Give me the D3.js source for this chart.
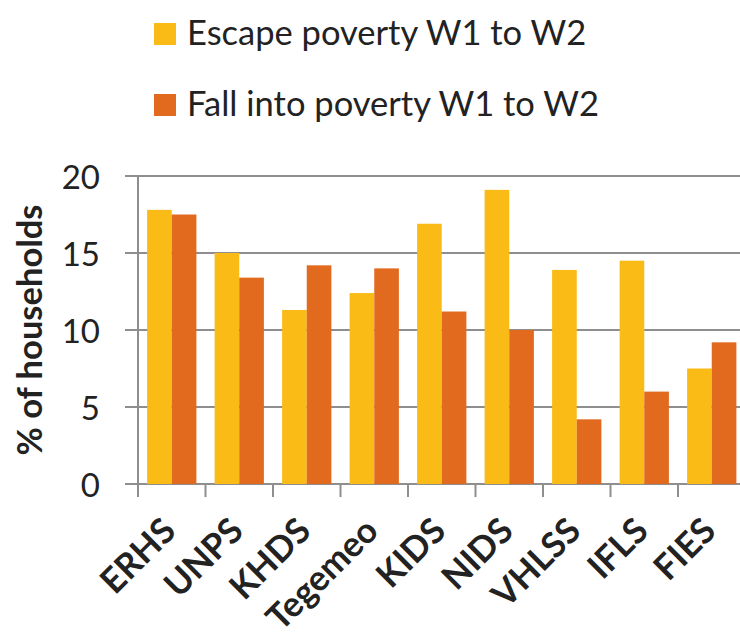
<!DOCTYPE html>
<html>
<head>
<meta charset="utf-8">
<script src="https://cdn.jsdelivr.net/npm/d3@7"></script>
<style>
  html, body { margin: 0; padding: 0; background: #fff; }
  svg { display: block; }
  text { font-family: Lato, "Open Sans", sans-serif; fill: #222; }
</style>
</head>
<body>
<svg id="chart" width="740" height="636"></svg>
<script>
// Household poverty transitions between survey waves, by survey
const categories = ["ERHS", "UNPS", "KHDS", "Tegemeo", "KIDS", "NIDS", "VHLSS", "IFLS", "FIES"];
const seriesNames = ["Escape poverty W1 to W2", "Fall into poverty W1 to W2"];
const escapeValues = [17.8, 15.0, 11.3, 12.4, 16.9, 19.1, 13.9, 14.5, 7.5];
const fallValues   = [17.5, 13.4, 14.2, 14.0, 11.2, 10.0, 4.2, 6.0, 9.2];
const yTicks = [0, 5, 10, 15, 20];
const colors = ["#fbbb17", "#e26a1f"];

const svg = d3.select("#chart");
const plotLeft = 138, plotRight = 745.5, plotTop = 176, plotBottom = 484;
const gridColor = "#8e8e8e";

const y = d3.scaleLinear().domain([0, 20]).range([plotBottom, plotTop]);
const xCat = d3.scaleBand().domain(categories).range([plotLeft, plotRight]);
const x0 = d3.scaleBand().domain(categories).range([plotLeft, plotRight])
  .paddingInner(0.27).paddingOuter(0.135);
const x1 = d3.scaleBand().domain(seriesNames).range([0, x0.bandwidth()]);

// Horizontal gridlines (the 0 line doubles as the category axis)
svg.append("g").selectAll("line").data(yTicks).join("line")
  .attr("x1", plotLeft - 13).attr("x2", 740)
  .attr("y1", d => y(d)).attr("y2", d => y(d))
  .attr("stroke", gridColor).attr("stroke-width", 2);

// Value axis line
svg.append("line")
  .attr("x1", plotLeft).attr("x2", plotLeft)
  .attr("y1", y(20)).attr("y2", plotBottom + 13)
  .attr("stroke", gridColor).attr("stroke-width", 2);

// Category tick marks at band boundaries
svg.append("g").selectAll("line").data(categories.slice(1)).join("line")
  .attr("x1", d => xCat(d)).attr("x2", d => xCat(d))
  .attr("y1", plotBottom).attr("y2", plotBottom + 13)
  .attr("stroke", gridColor).attr("stroke-width", 2);

// Value tick labels
svg.append("g").selectAll("text").data(yTicks).join("text")
  .attr("x", 100).attr("y", d => y(d))
  .attr("text-anchor", "end").attr("dominant-baseline", "central")
  .style("font-size", "33px")
  .text(d => d);

// Bars
const rows = categories.map((c, i) => ({ cat: c, values: [escapeValues[i], fallValues[i]] }));
svg.append("g").selectAll("g").data(rows).join("g")
  .attr("transform", d => `translate(${x0(d.cat)},0)`)
  .selectAll("rect")
  .data(d => d.values.map((v, k) => ({ name: seriesNames[k], value: v, k })))
  .join("rect")
  .attr("x", d => x1(d.name))
  .attr("width", x1.bandwidth())
  .attr("y", d => y(d.value))
  .attr("height", d => y(0) - y(d.value))
  .attr("fill", d => colors[d.k]);

// Category labels, rotated
svg.append("g").selectAll("text").data(categories).join("text")
  .attr("transform", d => `translate(${xCat(d) + xCat.bandwidth() / 2 + 6},${plotBottom + 49}) rotate(-45)`)
  .attr("text-anchor", "end")
  .style("font-size", "35px").style("font-weight", 700)
  .text(d => d);

// Value axis title
svg.append("text")
  .attr("transform", `translate(42,330) rotate(-90)`)
  .attr("text-anchor", "middle")
  .style("font-size", "34.5px").style("font-weight", 700)
  .text("% of households");

// Legend
const legend = svg.append("g").selectAll("g").data(seriesNames).join("g")
  .attr("transform", (d, i) => `translate(154,${23 + i * 71})`);
legend.append("rect").attr("width", 22).attr("height", 22)
  .attr("fill", (d, i) => colors[i]);
legend.append("text").attr("x", 33).attr("y", 22)
  .style("font-size", "34.5px")
  .text(d => d);
</script>
</body>
</html>
